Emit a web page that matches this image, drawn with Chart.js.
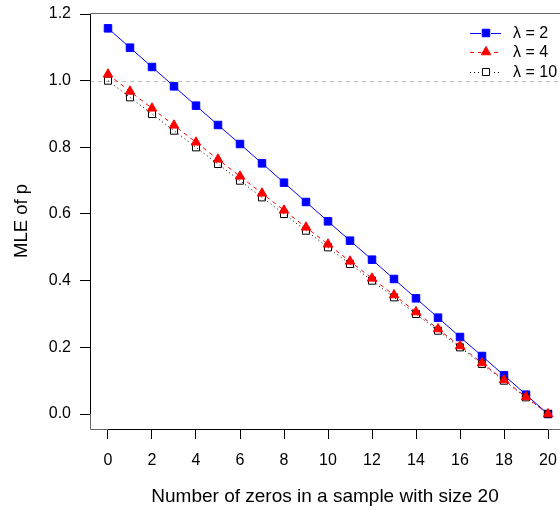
<!DOCTYPE html>
<html>
<head>
<meta charset="utf-8">
<script src="https://cdn.jsdelivr.net/npm/chart.js@4/dist/chart.umd.min.js"></script>
<style>
  html, body { margin: 0; padding: 0; background: #fff; overflow: hidden; }
  canvas { display: block; }
</style>
</head>
<body>
<canvas id="myChart" width="560" height="511"></canvas>
<script>
// number of zeros in the sample (x)
const zeros = [0, 1, 2, 3, 4, 5, 6, 7, 8, 9, 10, 11, 12, 13, 14, 15, 16, 17, 18, 19, 20];
// MLE of p, one list per lambda
const mleLambda2 = [1.157, 1.099, 1.041, 0.983, 0.925, 0.867, 0.810, 0.752, 0.694, 0.636, 0.578,
                    0.520, 0.463, 0.405, 0.347, 0.289, 0.231, 0.174, 0.116, 0.058, 0.000];
const mleLambda4 = [1.019, 0.968, 0.917, 0.866, 0.815, 0.764, 0.713, 0.662, 0.611, 0.560, 0.509,
                    0.458, 0.407, 0.357, 0.306, 0.255, 0.204, 0.153, 0.102, 0.051, 0.000];
const mleLambda10 = [1.000, 0.950, 0.900, 0.850, 0.800, 0.750, 0.700, 0.650, 0.600, 0.550, 0.500,
                     0.450, 0.400, 0.350, 0.300, 0.250, 0.200, 0.150, 0.100, 0.050, 0.000];
const seriesLabels = ['\u03bb = 2', '\u03bb = 4', '\u03bb = 10'];
const xTicks = [0, 2, 4, 6, 8, 10, 12, 14, 16, 18, 20];
const yTicks = [0.0, 0.2, 0.4, 0.6, 0.8, 1.0, 1.2];
const refLine = 1.0;

const FONT = '"Liberation Sans", Arial, Helvetica, sans-serif';

function toPoints(ys) {
  return zeros.map((z, i) => ({x: z, y: ys[i]}));
}

// gray dashed line at p = 1, box and R-style axis lines
const framePlugin = {
  id: 'frame',
  beforeDatasetsDraw(chart) {
    const {ctx, chartArea: a, scales} = chart;
    const y1 = scales.y.getPixelForValue(refLine);
    ctx.save();
    ctx.strokeStyle = '#bebebe';
    ctx.lineWidth = 1;
    ctx.setLineDash([4, 4]);
    ctx.beginPath();
    ctx.moveTo(a.left, Math.round(y1) + 0.5);
    ctx.lineTo(a.right, Math.round(y1) + 0.5);
    ctx.stroke();
    ctx.restore();
  },
  afterDraw(chart) {
    const {ctx, chartArea: a, scales} = chart;
    ctx.save();
    ctx.lineWidth = 1;
    // box
    ctx.strokeStyle = '#666';
    ctx.beginPath();
    ctx.moveTo(a.right, a.top + 0.5);
    ctx.lineTo(a.left + 0.5, a.top + 0.5);
    ctx.lineTo(a.left + 0.5, a.bottom + 0.5);
    ctx.lineTo(a.right, a.bottom + 0.5);
    ctx.stroke();
    // axis lines between first and last tick
    ctx.strokeStyle = '#000';
    ctx.beginPath();
    ctx.moveTo(a.left + 0.5, scales.y.getPixelForValue(yTicks[0]));
    ctx.lineTo(a.left + 0.5, scales.y.getPixelForValue(yTicks[yTicks.length - 1]));
    ctx.moveTo(scales.x.getPixelForValue(xTicks[0]), a.bottom + 0.5);
    ctx.lineTo(scales.x.getPixelForValue(xTicks[xTicks.length - 1]), a.bottom + 0.5);
    ctx.stroke();
    ctx.restore();
  }
};

function drawSymbol(ctx, style, r, x, y) {
  if (style === 'rect') {
    const s = Math.SQRT1_2 * r;
    ctx.rect(x - s, y - s, 2 * s, 2 * s);
  } else {
    const w = r * Math.sqrt(3) / 2;
    ctx.moveTo(x, y - r);
    ctx.lineTo(x + w, y + r / 2);
    ctx.lineTo(x - w, y + r / 2);
    ctx.closePath();
  }
}

// R-like legend: line sample, symbol, label
const legendPlugin = {
  id: 'rlegend',
  afterDraw(chart) {
    const ctx = chart.ctx;
    const rows = [33, 52, 72];
    const x0 = 470, x1 = 501, xm = 486, xt = 513;
    ctx.save();
    chart.data.datasets.forEach((ds, i) => {
      const y = rows[i];
      ctx.strokeStyle = ds.borderColor;
      ctx.lineWidth = 1;
      ctx.setLineDash(ds.borderDash || []);
      ctx.beginPath();
      ctx.moveTo(x0, y + 0.5);
      ctx.lineTo(x1, y + 0.5);
      ctx.stroke();
      ctx.setLineDash([]);
      ctx.fillStyle = '#fff';
      ctx.fillRect(xm - 5, y - 5, 10, 10);
      ctx.fillStyle = ds.pointBackgroundColor;
      ctx.strokeStyle = ds.pointBorderColor;
      ctx.beginPath();
      drawSymbol(ctx, ds.pointStyle, ds.pointRadius, xm, y);
      if (ds.pointBackgroundColor !== 'rgba(0,0,0,0)') ctx.fill();
      ctx.stroke();
      ctx.fillStyle = '#000';
      ctx.font = '16px ' + FONT;
      ctx.textBaseline = 'middle';
      ctx.textAlign = 'left';
      ctx.fillText(ds.label, xt, y + 1);
    });
    ctx.restore();
  }
};

const ctx = document.getElementById('myChart');

new Chart(ctx, {
  type: 'line',
  data: {
    datasets: [
      {
        label: seriesLabels[0],
        data: toPoints(mleLambda2),
        borderColor: '#0000ff',
        borderWidth: 1,
        pointStyle: 'rect',
        pointRadius: 5.3,
        pointBackgroundColor: '#0000ff',
        pointBorderColor: '#0000ff',
        pointBorderWidth: 1,
        order: 2
      },
      {
        label: seriesLabels[1],
        data: toPoints(mleLambda4),
        borderColor: '#ff0000',
        borderWidth: 1,
        borderDash: [4, 4],
        pointStyle: 'triangle',
        pointRadius: 5.5,
        pointBackgroundColor: '#ff0000',
        pointBorderColor: '#ff0000',
        pointBorderWidth: 1,
        order: 0
      },
      {
        label: seriesLabels[2],
        data: toPoints(mleLambda10),
        borderColor: '#000000',
        borderWidth: 1,
        borderDash: [1, 3],
        pointStyle: 'rect',
        pointRadius: 5,
        pointBackgroundColor: 'rgba(0,0,0,0)',
        pointBorderColor: '#000000',
        pointBorderWidth: 1,
        order: 1
      }
    ]
  },
  options: {
    responsive: false,
    animation: false,
    layout: { autoPadding: false, padding: { top: 13, left: 0, right: 0, bottom: 0 } },
    plugins: { legend: { display: false }, tooltip: { enabled: false } },
    elements: { line: { tension: 0, fill: false } },
    scales: {
      x: {
        type: 'linear',
        min: -0.818,
        max: 20.545,
        afterFit(s) { s.height = 82; s.paddingLeft = 0; s.paddingRight = 0; },
        afterBuildTicks(s) { s.ticks = xTicks.map(v => ({value: v})); },
        grid: { drawOnChartArea: false, drawTicks: true, tickLength: 10, color: '#000' },
        border: { display: false },
        ticks: {
          color: '#000', padding: 12, autoSkip: false, maxRotation: 0,
          font: { family: FONT, size: 16 }
        },
        title: {
          display: true, text: 'Number of zeros in a sample with size 20',
          color: '#000', font: { family: FONT, size: 19 },
          padding: { top: 0, bottom: 3 }
        }
      },
      y: {
        min: -0.045,
        max: 1.203,
        afterFit(s) { s.width = 90; s.paddingTop = 0; s.paddingBottom = 0; },
        afterBuildTicks(s) { s.ticks = yTicks.map(v => ({value: v})); },
        grid: { drawOnChartArea: false, drawTicks: true, tickLength: 10, color: '#000' },
        border: { display: false },
        ticks: {
          color: '#000', padding: 9, autoSkip: false,
          font: { family: FONT, size: 16 },
          callback: v => v.toFixed(1)
        },
        title: {
          display: true, text: 'MLE of p',
          color: '#000', font: { family: FONT, size: 18.5 },
          padding: { top: 11, bottom: 0 }
        }
      }
    }
  },
  plugins: [framePlugin, legendPlugin]
});
</script>
</body>
</html>
